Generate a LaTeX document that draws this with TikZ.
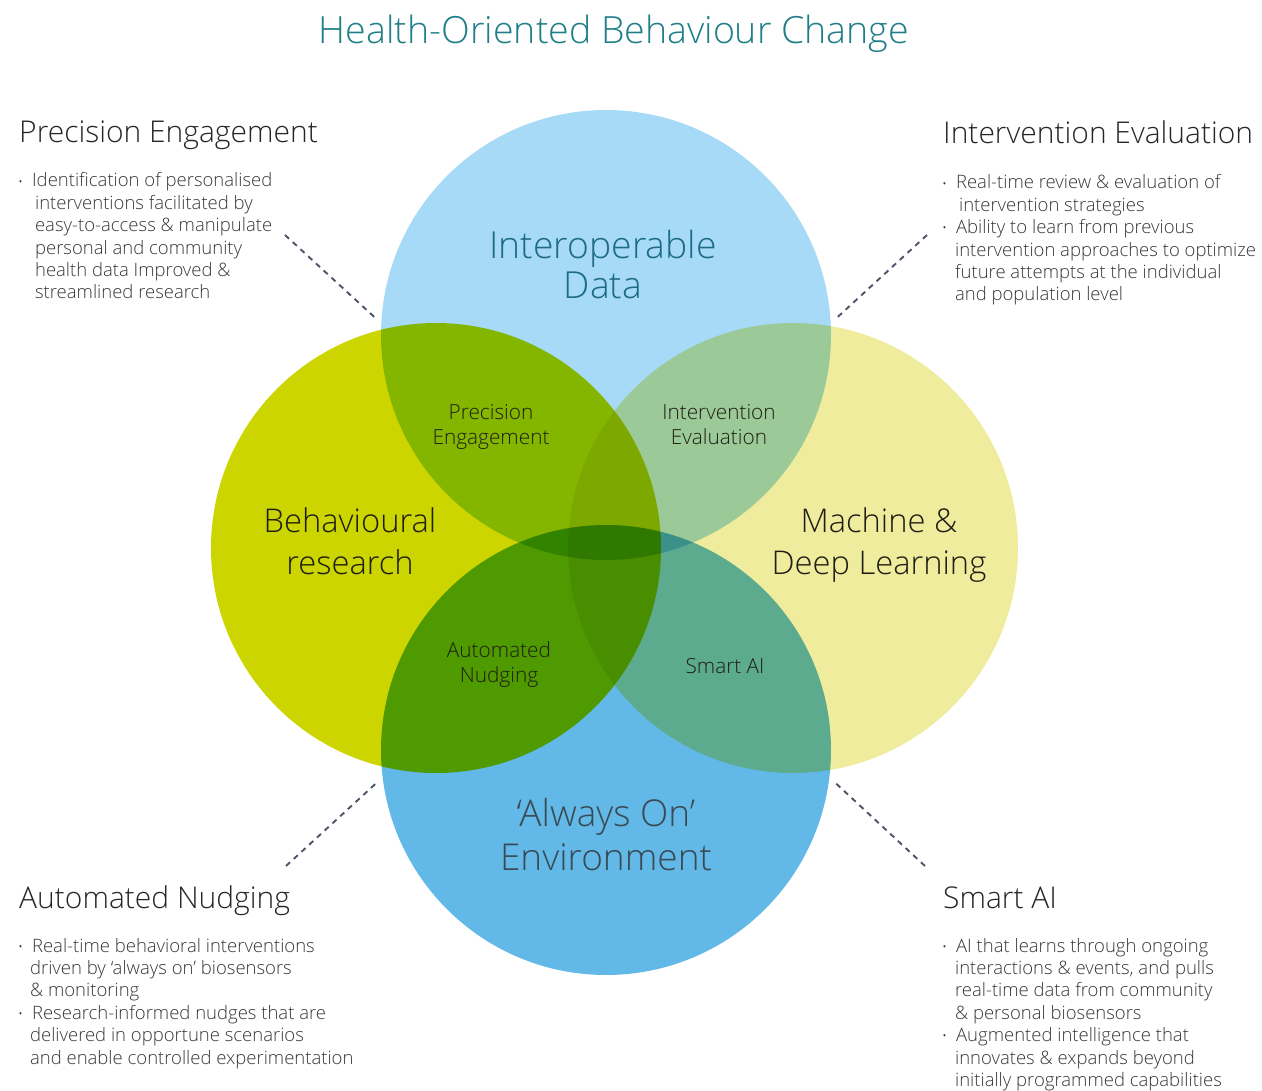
\documentclass[tikz,border=0pt]{standalone}
\usepackage{fontspec}
\setmainfont{Open Sans Light}
\usetikzlibrary{calc}
\definecolor{cTop}{RGB}{166,218,247}
\definecolor{cBot}{RGB}{98,185,232}
\definecolor{cLeft}{RGB}{204,213,0}
\definecolor{cRight}{RGB}{240,236,157}
\definecolor{cTitle}{RGB}{31,126,135}
\definecolor{cData}{RGB}{29,107,134}
\definecolor{cEnv}{RGB}{58,74,85}
\definecolor{cDark}{RGB}{30,30,20}
\definecolor{cHead}{RGB}{38,38,38}
\definecolor{cBody}{RGB}{55,55,55}
\definecolor{cDash}{RGB}{74,85,104}
\tikzset{
  venn/.style={circle, minimum size=450pt, inner sep=0pt, draw=none},
  biglabel/.style={align=center, inner sep=0pt, font=\fontsize{32.7}{42}\selectfont, text=cDark},
  smalllabel/.style={align=center, inner sep=0pt, font=\fontsize{20.8}{25}\selectfont, text=cDark},
  heading/.style={anchor=base west, inner sep=0pt, font=\fontsize{30}{36}\selectfont, text=cHead},
  body/.style={anchor=base west, inner sep=0pt, font=\fontsize{18.5}{22.4}\selectfont, text=cBody},
  leader/.style={draw=cDash, line width=1.9pt, dash pattern=on 5.5pt off 5pt}
}
\newcommand{\bl}{\raisebox{0.1ex}{\fontsize{13}{13}\selectfont •}}
\begin{document}
\begin{tikzpicture}[x=1pt,y=-1pt]
\useasboundingbox (0,0) rectangle (1262,1091);
% circles with multiply blending
\begin{scope}[blend group=multiply]
  \fill[cTop]   (606,335) circle (225);
  \fill[cLeft]  (436,548) circle (225);
  \fill[cRight] (793,548) circle (225);
  \fill[cBot]   (606,750) circle (225);
\end{scope}
\node[venn] (ctop) at (606,335) {};
\node[venn] (cleft) at (436,548) {};
\node[venn] (cright) at (793,548) {};
\node[venn] (cbot) at (606,750) {};
% title
\node[anchor=base, inner sep=0pt, font=\fontsize{37.5}{44}\selectfont, text=cTitle] (title) at (614,44) {Health-Oriented Behaviour Change};
% circle labels (base anchor = baseline of last line)
\node[biglabel, text=cData, font=\fontsize{37.3}{40}\selectfont, anchor=base] (ldata) at (603,299) {Interoperable\\Data};
\node[biglabel, anchor=base] (lbeh) at (350,574) {Behavioural\\research};
\node[biglabel, anchor=base] (lml) at (879,574) {Machine \&\\Deep Learning};
\node[biglabel, text=cEnv, font=\fontsize{37}{44}\selectfont, anchor=base] (lenv) at (606,870) {‘Always On’\\Environment};
% intersection labels
\node[smalllabel, anchor=base] (ipe) at (491,445) {Precision\\Engagement};
\node[smalllabel, anchor=base] (iie) at (719,445) {Intervention\\Evaluation};
\node[smalllabel, anchor=base] (ian) at (499,682) {Automated\\Nudging};
\node[smalllabel, anchor=base] (isa) at (725,673) {Smart AI};
% corner headings
\node[heading] (hpe) at (19,143) {Precision Engagement};
\node[heading] (hie) at (943,144) {Intervention Evaluation};
\node[heading] (han) at (19,908) {Automated Nudging};
\node[heading] (hsa) at (943,908) {Smart AI};
% corner bodies
\node[body] (bpe) at (18,187) {\begin{tabular}[t]{@{}l@{\hspace{9pt}}l@{}}
\bl & Identification of personalised\\
 & \hspace{3pt}interventions facilitated by\\
 & \hspace{3pt}easy-to-access \& manipulate\\
 & \hspace{3pt}personal and community\\
 & \hspace{3pt}health data Improved \&\\
 & \hspace{3pt}streamlined research
\end{tabular}};
\node[body] (bie) at (942,189) {\begin{tabular}[t]{@{}l@{\hspace{9pt}}l@{}}
\bl & Real-time review \& evaluation of\\
 & \hspace{3pt}intervention strategies\\
\bl & Ability to learn from previous\\
 & \hspace{-1pt}intervention approaches to optimize\\
 & \hspace{-1pt}future attempts at the individual\\
 & \hspace{-1pt}and population level
\end{tabular}};
\node[body] (ban) at (18,952) {\begin{tabular}[t]{@{}l@{\hspace{9pt}}l@{}}
\bl & Real-time behavioral interventions\\
 & \hspace{-2pt}driven by ‘always on’ biosensors\\
 & \hspace{-2pt}\& monitoring\\
\bl & Research-informed nudges that are\\
 & \hspace{-2pt}delivered in opportune scenarios\\
 & \hspace{-2pt}and enable controlled experimentation
\end{tabular}};
\node[body] (bsa) at (942,952) {\begin{tabular}[t]{@{}l@{\hspace{9pt}}l@{}}
\bl & AI that learns through ongoing\\
 & \hspace{-1pt}interactions \& events, and pulls\\
 & \hspace{-1pt}real-time data from community\\
 & \hspace{-1pt}\& personal biosensors\\
\bl & Augmented intelligence that\\
 & \hspace{-1pt}innovates \& expands beyond\\
 & \hspace{-1pt}initially programmed capabilities
\end{tabular}};
% leader lines
\coordinate (dpe) at (285,235);
\coordinate (die) at (927,235);
\coordinate (dan) at (286,866);
\coordinate (dsa) at (925,866);
\draw[leader, shorten >=8pt] (dpe) -- (ctop.177);
\draw[leader, shorten >=7pt] (die) -- (ctop.3);
\draw[leader, shorten >=7pt] (dan) -- (cbot.187);
\draw[leader, shorten >=7pt] (dsa) -- (cbot.353);
\end{tikzpicture}
\end{document}
